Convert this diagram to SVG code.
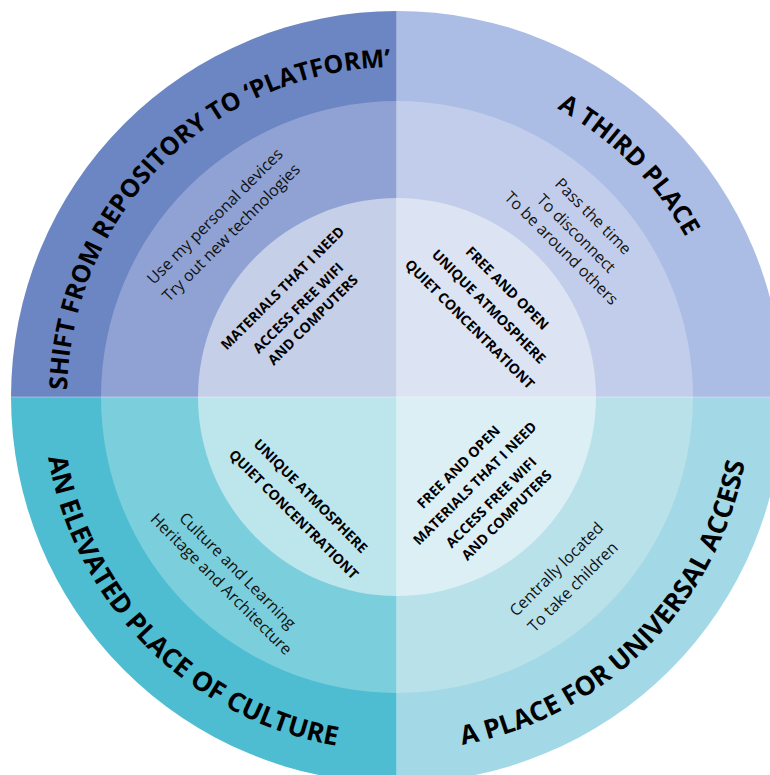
<svg xmlns="http://www.w3.org/2000/svg" width="770" height="775" viewBox="0 0 770 775">
<style>
.arc{font-family:"Open Sans","Liberation Sans",sans-serif;font-weight:700;font-size:25px;fill:#000;}
.arcb{font-size:26.5px;}
.mid{font-family:"Open Sans","Liberation Sans",sans-serif;font-weight:400;font-size:16px;fill:#111;text-anchor:middle;}
.inn{font-family:"Open Sans","Liberation Sans",sans-serif;font-weight:700;font-size:14px;fill:#000;text-anchor:middle;}
.sep{stroke:#ffffff;stroke-opacity:0.35;stroke-width:1;fill:none;}
</style>
<defs>
<path id="pTL" d="M 67 397 A 330 330 0 0 1 397 67"/>
<path id="pTR" d="M 397 67 A 330 330 0 0 1 727 397"/>
<path id="pBL" d="M 43 397 A 354 354 0 0 0 397 751"/>
<path id="pBR" d="M 397 751 A 354 354 0 0 0 751 397"/>
</defs>
<rect width="770" height="775" fill="#ffffff"/>

<g id="quadrant-top-left">
<path d="M397 397 L11 397 A386 386 0 0 1 397 11 Z" fill="#6b86c3"/>
<path d="M397 397 L101 397 A296 296 0 0 1 397 101 Z" fill="#8fa2d3"/>
<path d="M397 397 L198 397 A199 199 0 0 1 397 198 Z" fill="#c5cfe8"/>
<text class="arc"><textPath href="#pTL" startOffset="50%" text-anchor="middle">SHIFT FROM REPOSITORY TO ‘PLATFORM’</textPath></text>
<g transform="translate(397 397) rotate(-45)">
<text class="mid" x="-1" y="-251">Use my personal devices</text>
<text class="mid" x="-1" y="-228">Try out new technologies</text>
<text class="inn" x="-4" y="-153">MATERIALS THAT I NEED</text>
<text class="inn" x="-7" y="-128">ACCESS FREE WIFI</text>
<text class="inn" x="-5" y="-109">AND COMPUTERS</text>
</g>
</g>

<g id="quadrant-top-right">
<path d="M397 397 L397 11 A386 386 0 0 1 783 397 Z" fill="#abbde4"/>
<path d="M397 397 L397 101 A296 296 0 0 1 693 397 Z" fill="#c1cdea"/>
<path d="M397 397 L397 198 A199 199 0 0 1 596 397 Z" fill="#dce4f3"/>
<text class="arc"><textPath href="#pTR" startOffset="50%" text-anchor="middle">A THIRD PLACE</textPath></text>
<g transform="translate(397 397) rotate(45)">
<text class="mid" x="11" y="-261">Pass the time</text>
<text class="mid" x="11" y="-237">To disconnect</text>
<text class="mid" x="11" y="-216">To be around others</text>
<text class="inn" x="1" y="-150">FREE AND OPEN</text>
<text class="inn" x="1" y="-124">UNIQUE ATMOSPHERE</text>
<text class="inn" x="0" y="-98">QUIET CONCENTRATIONT</text>
</g>
</g>

<g id="quadrant-bottom-left">
<path d="M397 397 L397 783 A386 386 0 0 1 11 397 Z" fill="#4fbdd1"/>
<path d="M397 397 L397 693 A296 296 0 0 1 101 397 Z" fill="#7bcfdc"/>
<path d="M397 397 L397 596 A199 199 0 0 1 198 397 Z" fill="#bde6ec"/>
<text class="arc arcb"><textPath href="#pBL" startOffset="50%" text-anchor="middle">AN ELEVATED PLACE OF CULTURE</textPath></text>
<g transform="translate(397 397) rotate(45)">
<text class="mid" x="10" y="241">Culture and Learning</text>
<text class="mid" x="8" y="262">Heritage and Architecture</text>
<text class="inn" x="9" y="136">UNIQUE ATMOSPHERE</text>
<text class="inn" x="10" y="161">QUIET CONCENTRATIONT</text>
</g>
</g>

<g id="quadrant-bottom-right">
<path d="M397 397 L783 397 A386 386 0 0 1 397 783 Z" fill="#a3d8e6"/>
<path d="M397 397 L693 397 A296 296 0 0 1 397 693 Z" fill="#b8e1ea"/>
<path d="M397 397 L596 397 A199 199 0 0 1 397 596 Z" fill="#dbeff5"/>
<text class="arc arcb"><textPath href="#pBR" startOffset="50%" text-anchor="middle">A PLACE FOR UNIVERSAL ACCESS</textPath></text>
<g transform="translate(397 397) rotate(-45)">
<text class="mid" x="-9" y="240">Centrally located</text>
<text class="mid" x="-10" y="264">To take children</text>
<text class="inn" x="-6" y="98">FREE AND OPEN</text>
<text class="inn" x="-6" y="121">MATERIALS THAT I NEED</text>
<text class="inn" x="-8" y="146">ACCESS FREE WIFI</text>
<text class="inn" x="-6" y="166">AND COMPUTERS</text>
</g>
</g>

<g id="connectors">
<line class="sep" x1="396.5" y1="11" x2="396.5" y2="775"/>
<line class="sep" x1="11" y1="397" x2="770" y2="397"/>
</g>
</svg>
